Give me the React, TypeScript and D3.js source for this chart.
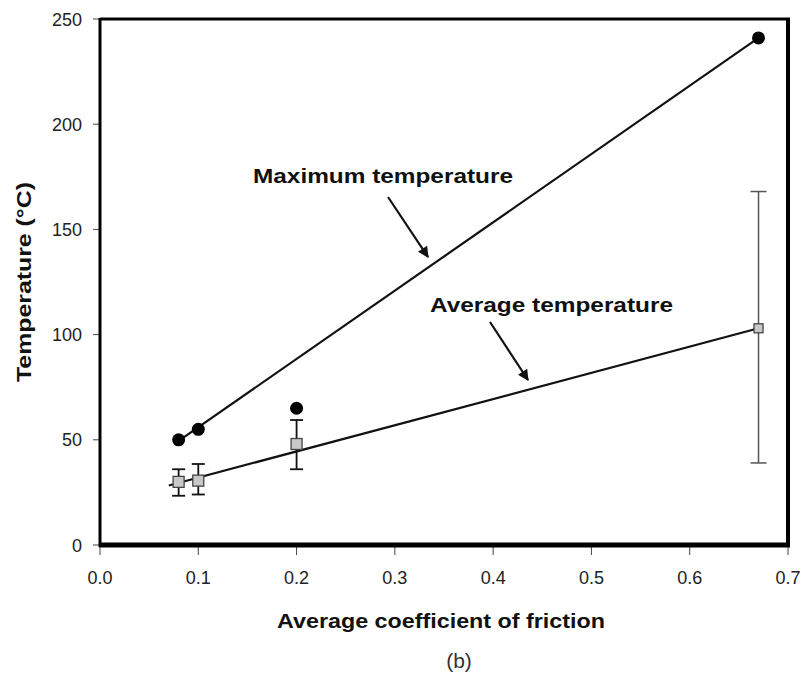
import { useEffect } from "react";
import * as d3 from "d3";

// friction coefficient for each test
const friction = [0.08, 0.1, 0.2, 0.67];
const maxTemp = [50, 55, 65, 241];
const avgTemp = [30, 30.6, 48, 103];
const avgLow = [23.4, 24, 36, 39];
const avgHigh = [36, 38.5, 59.4, 168];

// fitted lines (end points)
const maxFitX = [0.08, 0.67];
const maxFitY = [49.5, 241];
const avgFitX = [0.07, 0.67];
const avgFitY = [28.3, 103];

const xTicks = [0, 0.1, 0.2, 0.3, 0.4, 0.5, 0.6, 0.7];
const yTicks = [0, 50, 100, 150, 200, 250];

const FONT = "'Liberation Sans', Arial, sans-serif";

function App() {
  useEffect(() => {
    document.body.style.margin = "0";
  }, []);

  const width = 804;
  const height = 681;
  const x = d3.scaleLinear().domain([0, 0.7]).range([100, 788]);
  const y = d3.scaleLinear().domain([0, 250]).range([545, 19]);

  const fitLine = d3
    .line<[number, number]>()
    .x((d) => x(d[0]))
    .y((d) => y(d[1]));

  const maxFit = maxFitX.map((v, i) => [v, maxFitY[i]] as [number, number]);
  const avgFit = avgFitX.map((v, i) => [v, avgFitY[i]] as [number, number]);

  return (
    <svg width={width} height={height} style={{ display: "block", background: "#fff" }}>
      <defs>
        <marker
          id="arrowBig"
          viewBox="0 0 10 10"
          refX="9"
          refY="5"
          markerWidth="13"
          markerHeight="11"
          markerUnits="userSpaceOnUse"
          orient="auto"
        >
          <path d="M0,0 L10,5 L0,10 z" fill="#111" />
        </marker>
      </defs>

      {/* ticks */}
      {yTicks.map((t) => (
        <g key={"y" + t}>
          <line x1={93} x2={100} y1={y(t)} y2={y(t)} stroke="#444" strokeWidth={1} />
          <text
            x={82}
            y={y(t) + 6.5}
            textAnchor="end"
            fontFamily={FONT}
            fontSize={18}
            fill="#222"
          >
            {t}
          </text>
        </g>
      ))}
      {xTicks.map((t) => (
        <g key={"x" + t}>
          <line x1={x(t)} x2={x(t)} y1={545} y2={555} stroke="#444" strokeWidth={1} />
          <text
            x={x(t)}
            y={584}
            textAnchor="middle"
            fontFamily={FONT}
            fontSize={18}
            fill="#222"
          >
            {t.toFixed(1)}
          </text>
        </g>
      ))}

      {/* frame */}
      <line x1={100} x2={790} y1={19} y2={19} stroke="#000" strokeWidth={3} />
      <line x1={788} x2={788} y1={19} y2={547} stroke="#000" strokeWidth={4} />
      <line x1={100} x2={100} y1={18} y2={547} stroke="#000" strokeWidth={3} />
      <line x1={99} x2={790} y1={545} y2={545} stroke="#000" strokeWidth={5} />

      {/* fitted lines */}
      <path d={fitLine(maxFit) ?? ""} fill="none" stroke="#111" strokeWidth={2.2} />
      <path d={fitLine(avgFit) ?? ""} fill="none" stroke="#111" strokeWidth={2.2} />

      {/* error bars */}
      {friction.map((f, i) => {
        const last = i === friction.length - 1;
        const c = last ? "#555" : "#111";
        const hw = last ? 8 : 6.5;
        return (
          <g key={"e" + i} stroke={c} strokeWidth={last ? 1.5 : 1.8}>
            <line x1={x(f)} x2={x(f)} y1={y(avgLow[i])} y2={y(avgHigh[i])} />
            <line x1={x(f) - hw} x2={x(f) + hw} y1={y(avgLow[i])} y2={y(avgLow[i])} />
            <line x1={x(f) - hw} x2={x(f) + hw} y1={y(avgHigh[i])} y2={y(avgHigh[i])} />
          </g>
        );
      })}

      {/* average markers */}
      {friction.map((f, i) => {
        const s = i === friction.length - 1 ? 9 : 11;
        return (
          <rect
            key={"s" + i}
            x={x(f) - s / 2}
            y={y(avgTemp[i]) - s / 2}
            width={s}
            height={s}
            fill="#c8c8c8"
            stroke="#444"
            strokeWidth={1.3}
          />
        );
      })}

      {/* maximum markers */}
      {friction.map((f, i) => (
        <circle key={"c" + i} cx={x(f)} cy={y(maxTemp[i])} r={6.5} fill="#000" />
      ))}

      {/* annotations */}
      <text
        x={253}
        y={183}
        fontFamily={FONT}
        fontWeight="bold"
        fontSize={20}
        textLength={260}
        lengthAdjust="spacingAndGlyphs"
        fill="#111"
      >
        Maximum temperature
      </text>
      <line x1={388} y1={197} x2={428} y2={257} stroke="#111" strokeWidth={2.2} markerEnd="url(#arrowBig)" />

      <text
        x={430}
        y={312}
        fontFamily={FONT}
        fontWeight="bold"
        fontSize={20}
        textLength={243}
        lengthAdjust="spacingAndGlyphs"
        fill="#111"
      >
        Average temperature
      </text>
      <line x1={490} y1={322} x2={528} y2={380} stroke="#111" strokeWidth={2.2} markerEnd="url(#arrowBig)" />

      {/* axis titles */}
      <text
        transform="translate(31,282) rotate(-90)"
        textAnchor="middle"
        fontFamily={FONT}
        fontWeight="bold"
        fontSize={21}
        textLength={200}
        lengthAdjust="spacingAndGlyphs"
        fill="#111"
      >
        Temperature (°C)
      </text>
      <text
        x={441}
        y={628}
        textAnchor="middle"
        fontFamily={FONT}
        fontWeight="bold"
        fontSize={21}
        textLength={328}
        lengthAdjust="spacingAndGlyphs"
        fill="#111"
      >
        Average coefficient of friction
      </text>
      <text
        x={459}
        y={668}
        textAnchor="middle"
        fontFamily={FONT}
        fontSize={21}
        fill="#333"
      >
        (b)
      </text>
    </svg>
  );
}

export default App;
